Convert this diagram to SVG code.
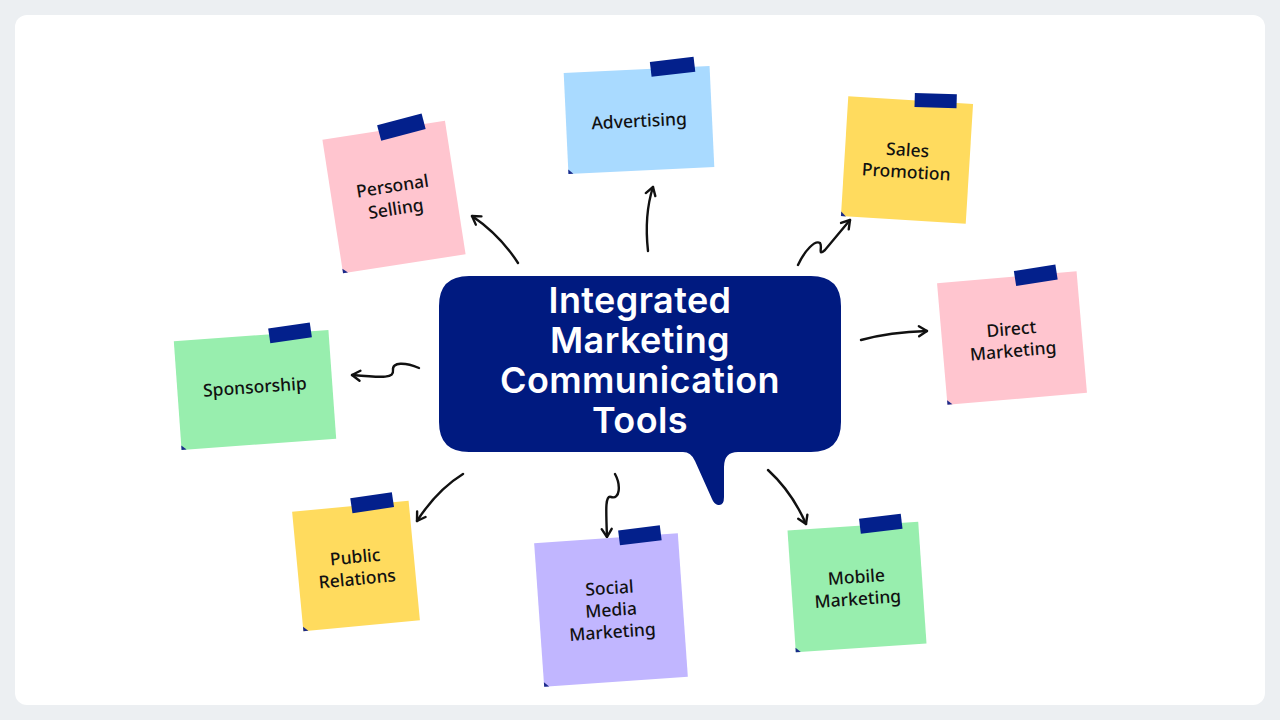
<svg xmlns="http://www.w3.org/2000/svg" width="1280" height="720" viewBox="0 0 1280 720">
<defs>
<style>
.note-txt{font-family:"Noto Sans","Open Sans",sans-serif;font-size:17.5px;font-weight:500;fill:#111;text-anchor:middle}
.title{font-family:Inter,"Open Sans",sans-serif;font-size:36px;font-weight:600;fill:#fff;text-anchor:middle;letter-spacing:0.4px}
.tape{fill:#03208C}
.fold{fill:#1a2a8a}
.conn{fill:none;stroke:#111;stroke-width:2.4;stroke-linecap:round;marker-end:url(#ah)}
</style>
<marker id="ah" viewBox="-10 -7 12 14" refX="0" refY="0" markerWidth="12" markerHeight="14" markerUnits="userSpaceOnUse" orient="auto">
<path d="M-8,-5 L0,0 L-8,5" fill="none" stroke="#111" stroke-width="2.4" stroke-linecap="round" stroke-linejoin="round"/>
</marker>
</defs>
<rect width="1280" height="720" fill="#ECEFF2"/>
<rect x="15" y="15" width="1250" height="690" rx="12" fill="#FFFFFF"/>

<g id="connectors">
<path class="conn" d="M518,263 Q500,235 472,216"/>
<path class="conn" d="M648,251 Q644,215 653,187"/>
<path class="conn" d="M798,265 C805,250 815,240 820,243 C823,247 817,257 825,250 L850,220"/>
<path class="conn" d="M861,340 Q890,332 927,331"/>
<path class="conn" d="M419,368 C405,362 392,362 393,370 C394,378 385,378 352,375"/>
<path class="conn" d="M463,474 Q437,490 417,521"/>
<path class="conn" d="M615,474 C621,485 620,500 611,497 C605,495 606,510 607,537"/>
<path class="conn" d="M768,470 Q792,492 806,524"/>
</g>

<g id="center">
<path fill="#001A80" d="M469,276 H811 Q841,276 841,306 V422 Q841,452 811,452 H738 Q724,452 724,467 V497 Q724,506 718,505 Q714,504 712,499 L695,461 Q691,452 683,452 H469 Q439,452 439,422 V306 Q439,276 469,276 Z"/>
<text class="title" x="640" y="313">Integrated</text>
<text class="title" x="640" y="353">Marketing</text>
<text class="title" x="640" y="393">Communication</text>
<text class="title" x="640" y="433">Tools</text>
</g>

<g id="personal-selling" transform="translate(394,197) rotate(-8.8)">
<rect x="-62" y="-67.5" width="124" height="135" fill="#FFC5CF"/>
<polygon class="fold" points="-62,63 -57,67.5 -62,67.5"/>
<rect class="tape" x="-5" y="-76" width="46" height="16" transform="rotate(-6 18 -68)"/>
<text class="note-txt" x="0" y="-5">Personal</text>
<text class="note-txt" x="0" y="18">Selling</text>
</g>

<g id="advertising" transform="translate(639,120) rotate(-2.7)">
<rect x="-73" y="-50.5" width="146" height="101" fill="#A9DAFF"/>
<polygon class="fold" points="-73,46 -68,50.5 -73,50.5"/>
<rect class="tape" x="14" y="-59" width="44" height="15" transform="rotate(-4 36 -52)"/>
<text class="note-txt" x="0" y="7">Advertising</text>
</g>

<g id="sales-promotion" transform="translate(907,160) rotate(3.5)">
<rect x="-62.5" y="-60" width="125" height="120" fill="#FFDB5E"/>
<polygon class="fold" points="-62.5,55.5 -57.5,60 -62.5,60"/>
<rect class="tape" x="4" y="-68" width="42" height="14" transform="rotate(-2 25 -61)"/>
<text class="note-txt" x="0" y="-4">Sales</text>
<text class="note-txt" x="0" y="18">Promotion</text>
</g>

<g id="direct-marketing" transform="translate(1012,338) rotate(-4.9)">
<rect x="-70" y="-61" width="140" height="122" fill="#FFC5CF"/>
<polygon class="fold" points="-70,56.5 -65,61 -70,61"/>
<rect class="tape" x="8" y="-68" width="42" height="15" transform="rotate(-4 29 -61)"/>
<text class="note-txt" x="0" y="-3">Direct</text>
<text class="note-txt" x="0" y="19">Marketing</text>
</g>

<g id="sponsorship" transform="translate(255,390) rotate(-4.1)">
<rect x="-77.5" y="-54.5" width="155" height="109" fill="#98EEAE"/>
<polygon class="fold" points="-77.5,50 -72.5,54.5 -77.5,54.5"/>
<rect class="tape" x="18" y="-62" width="42" height="15" transform="rotate(-4 39 -55)"/>
<text class="note-txt" x="0" y="3">Sponsorship</text>
</g>

<g id="public-relations" transform="translate(356,566) rotate(-5.4)">
<rect x="-58.5" y="-60" width="117" height="120" fill="#FFDB5E"/>
<polygon class="fold" points="-58.5,55.5 -53.5,60 -58.5,60"/>
<rect class="tape" x="1" y="-69" width="42" height="15" transform="rotate(-3 22 -62)"/>
<text class="note-txt" x="0" y="-3">Public</text>
<text class="note-txt" x="0" y="19">Relations</text>
</g>

<g id="social-media-marketing" transform="translate(611,610) rotate(-4)">
<rect x="-72" y="-72" width="144" height="144" fill="#C1B6FF"/>
<polygon class="fold" points="-72,67.5 -67,72 -72,72"/>
<rect class="tape" x="13" y="-80" width="42" height="15" transform="rotate(-3 34 -73)"/>
<text class="note-txt" x="0" y="-16">Social</text>
<text class="note-txt" x="0" y="6">Media</text>
<text class="note-txt" x="0" y="28">Marketing</text>
</g>

<g id="mobile-marketing" transform="translate(857,587) rotate(-3.9)">
<rect x="-65.5" y="-61" width="131" height="122" fill="#98EEAE"/>
<polygon class="fold" points="-65.5,56.5 -60.5,61 -65.5,61"/>
<rect class="tape" x="7" y="-69" width="42" height="15" transform="rotate(-3 28 -62)"/>
<text class="note-txt" x="0" y="-4">Mobile</text>
<text class="note-txt" x="0" y="18">Marketing</text>
</g>
</svg>
